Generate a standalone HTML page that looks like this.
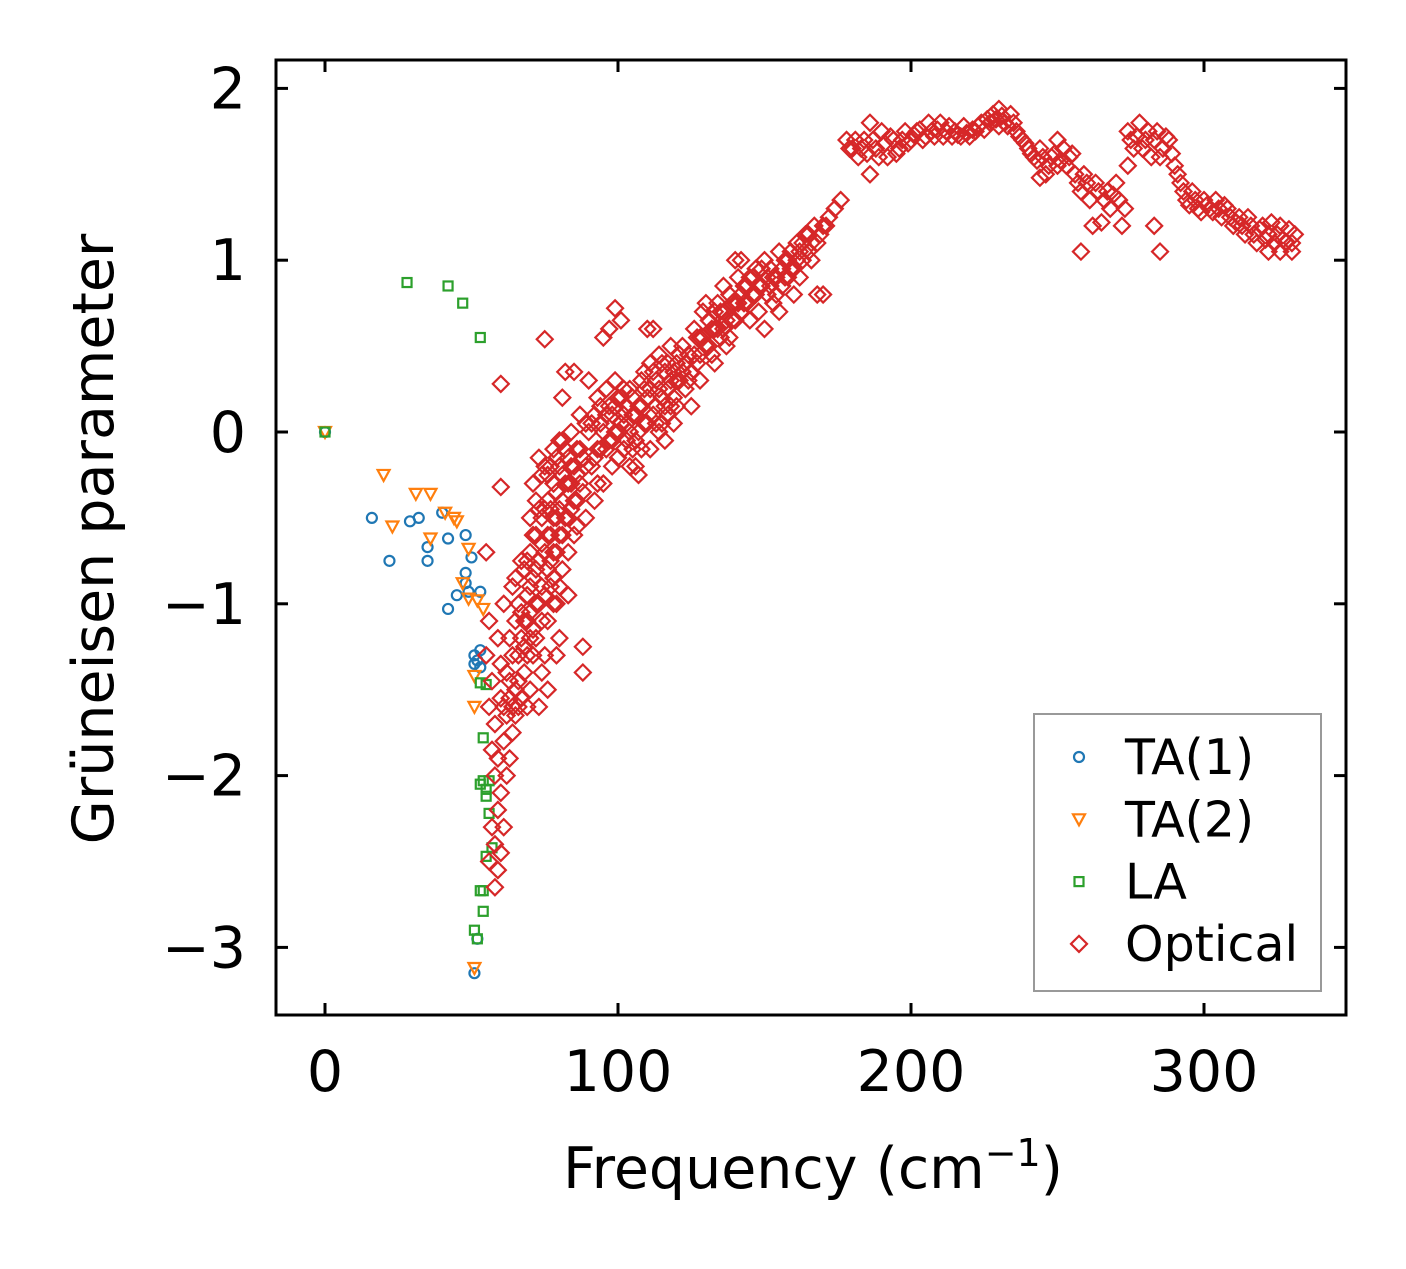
<!DOCTYPE html>
<html><head><meta charset="utf-8"><style>
html,body{margin:0;padding:0;background:#fff;}
svg text{font-family:"DejaVu Sans","Liberation Sans",sans-serif;}
</style></head><body>
<svg id="chart" width="1406" height="1264" xmlns="http://www.w3.org/2000/svg">
<rect width="1406" height="1264" fill="#fff"/>
<g id="marks"></g>
<g id="axes"></g>
<g id="legend"></g>
</svg>
<script>
const xTicks=[0,100,200,300];
const yTicks=[2,1,0,-1,-2,-3];
const yTickLabels=["2","1","0","\u22121","\u22122","\u22123"];
const ta1=[[0,0],[16,-0.5],[22,-0.75],[29,-0.52],[32,-0.5],[35,-0.75],[35,-0.67],[40,-0.47],[42,-0.62],[42,-1.03],[45,-0.95],[48,-0.6],[48,-0.82],[48,-0.88],[49,-0.93],[50,-0.73],[51,-1.3],[51,-1.35],[52,-1.33],[53,-0.93],[53,-1.27],[53,-1.37],[52,-2.95],[51,-3.15]];
const ta2=[[0,0],[20,-0.25],[23,-0.55],[31,-0.36],[36,-0.36],[36,-0.62],[41,-0.47],[44,-0.5],[45,-0.52],[47,-0.88],[49,-0.68],[49,-0.97],[51,-1.42],[51,-1.6],[52,-0.98],[54,-1.03],[51,-3.12]];
const la=[[0,0],[28,0.87],[42,0.85],[47,0.75],[53,0.55],[53,-1.46],[55,-1.47],[54,-1.78],[53,-2.05],[54,-2.03],[55,-2.08],[55,-2.12],[56,-2.22],[56,-2.03],[57,-2.42],[55,-2.47],[54,-2.67],[53,-2.67],[54,-2.79],[51,-2.9],[52,-2.95]];
const optical=[[55,-0.7],[56,-1.1],[55,-1.3],[57,-1.45],[56,-1.6],[58,-1.7],[57,-1.85],[59,-1.9],[58,-2.0],[60,-2.1],[59,-2.2],[57,-2.3],[58,-2.4],[60,-2.45],[56,-2.5],[59,-2.55],[58,-2.65],[61,-2.3],[62,-2.0],[61,-1.8],[63,-1.9],[60,-1.55],[62,-1.4],[64,-1.6],[63,-1.2],[61,-1.0],[65,-1.5],[66,-1.3],[64,-0.9],[60,-0.32],[60,0.28],[75,0.54],
[66,-1.0],[67,-1.2],[68,-1.4],[68,-0.8],[69,-1.1],[70,-0.9],[70,-1.5],[71,-0.6],[72,-0.8],[72,-1.2],[73,-1.0],[73,-1.6],[74,-0.5],[74,-0.9],[75,-0.7],[75,-1.3],[76,-0.4],[76,-1.1],[77,-0.6],[77,-0.9],[78,-0.3],[78,-0.7],[79,-0.5],[79,-1.0],[80,-0.2],[80,-0.6],[81,-0.4],[81,-0.8],[82,-0.1],[82,-0.5],[83,-0.3],[83,-0.7],[84,0.0],[84,-0.45],[85,-0.2],[85,-0.6],[86,-0.1],[86,-0.4],[87,0.1],[87,-0.3],[88,-0.15],[88,-1.25],[88,-1.4],[89,-0.5],[90,0.0],[90,0.3],[82,0.35],[85,0.35],[81,0.2],[78,-0.1],[79,-1.3],[80,-1.2],[76,-1.5],[83,-0.95],[69,-1.6],[67,-0.75],[71,-0.3],[73,-0.15],[75,-0.2],
[70,-0.5],[72,-0.4],[74,-0.25],[76,-0.8],[78,-1.0],[80,-0.9],[71,-1.3],[74,-1.4],[69,-1.3],[77,-0.2],[79,-0.15],[81,-0.05],[84,-0.2],[86,-0.55],[68,-1.1],[66,-1.6],[70,-1.2],
[63,-1.45],[64,-1.3],[65,-1.1],[65,-0.85],[66,-1.45],[67,-1.55],[67,-1.05],[68,-1.25],[69,-0.95],[69,-0.75],[70,-1.05],[70,-0.7],[71,-0.85],[71,-1.15],[72,-1.0],[72,-0.6],[73,-0.75],[73,-0.45],[74,-0.65],[74,-1.1],[75,-0.95],[75,-0.45],[76,-0.6],[76,-0.25],[77,-0.45],[77,-0.75],[78,-0.5],[78,-0.85],[79,-0.35],[79,-0.7],[80,-0.45],[80,-0.05],[81,-0.25],[81,-0.6],[82,-0.3],[83,-0.15],[83,-0.5],[84,-0.3],[85,-0.4],[86,-0.25],[87,-0.1],[88,-0.35],[89,-0.2],[89,0.05],[62,-1.65],[64,-1.75],[63,-1.55],[65,-1.65],[61,-1.6],[60,-1.35],[59,-1.2],
[91,-0.2],[92,0.1],[92,-0.4],[93,0.2],[94,-0.1],[95,0.0],[95,-0.3],[96,0.25],[97,-0.05],[98,0.1],[98,-0.2],[99,0.3],[100,0.0],[100,-0.15],[101,0.2],[102,-0.1],[103,0.05],[104,0.25],[104,-0.2],[105,0.1],[106,-0.05],[107,0.15],[108,0.3],[108,-0.1],[109,0.05],[110,0.2],[111,-0.1],[111,0.4],[112,0.1],[113,0.3],[114,0.0],[114,0.45],[115,0.2],[116,0.35],[117,0.1],[118,0.3],[118,0.5],[119,0.2],[120,0.4],[120,0.15],[97,0.6],[99,0.72],[101,0.65],[95,0.55],[104,0.0],[106,-0.2],[107,-0.25],[110,0.6],[112,0.6],[116,-0.05],
[93,-0.1],[96,0.1],[99,0.0],[102,0.1],[105,-0.1],[109,0.25],[113,0.15],[117,0.25],[94,0.15],[100,0.2],[103,-0.05],[115,0.05],
[91,0.05],[92,-0.15],[93,-0.3],[94,0.05],[96,-0.1],[97,0.15],[98,-0.05],[99,0.15],[101,0.05],[102,0.25],[103,0.15],[105,0.2],[106,0.1],[107,0.0],[108,0.15],[109,0.35],[110,0.05],[111,0.25],[112,0.35],[113,0.05],[114,0.25],[115,0.4],[116,0.15],[117,0.4],[118,0.15],[119,0.35],[119,0.05],[120,0.3],
[121,0.3],[122,0.5],[123,0.25],[124,0.45],[125,0.35],[126,0.6],[127,0.4],[128,0.55],[129,0.7],[130,0.5],[131,0.65],[132,0.45],[133,0.6],[134,0.75],[135,0.55],[136,0.7],[137,0.5],[138,0.8],[139,0.65],[140,0.75],[141,0.9],[142,0.7],[143,0.85],[144,0.75],[145,0.9],[146,0.8],[147,0.95],[148,0.7],[149,0.85],[150,1.0],[151,0.8],[152,0.95],[153,0.75],[154,0.9],[155,1.05],[156,0.85],[157,1.0],[158,0.9],[159,1.05],[160,0.95],[161,1.1],[162,0.9],[163,1.0],[164,1.15],[165,1.05],[166,1.1],[167,1.2],[168,0.8],[170,0.8],[169,1.15],[171,1.2],[172,1.25],[174,1.3],[176,1.35],[125,0.15],[128,0.3],[133,0.4],[138,0.55],[142,1.0],[140,1.0],[136,0.85],[130,0.75],[145,0.65],[150,0.6],[155,0.7],[160,0.8],
[121,0.45],[122,0.35],[123,0.4],[124,0.3],[126,0.45],[127,0.55],[128,0.45],[129,0.55],[131,0.5],[132,0.6],[133,0.7],[134,0.6],[135,0.7],[136,0.6],[137,0.65],[139,0.75],[140,0.65],[141,0.75],[142,0.8],[143,0.75],[144,0.85],[146,0.9],[147,0.8],[148,0.85],[149,0.95],[151,0.9],[152,0.85],[153,0.9],[154,0.8],[156,0.95],[157,0.9],[158,1.0],[159,0.95],[161,1.0],[162,1.05],[163,1.1],[165,1.15],[166,1.0],[168,1.1],[170,1.2],
[178,1.7],[180,1.65],[182,1.6],[184,1.7],[186,1.5],[186,1.8],[188,1.65],[190,1.75],[192,1.6],[194,1.7],[196,1.65],[198,1.75],[200,1.7],[202,1.75],[204,1.7],[206,1.8],[208,1.72],[210,1.8],[212,1.75],[214,1.72],[216,1.73],[218,1.78],[220,1.72],[222,1.75],[224,1.8],[226,1.82],[228,1.85],[230,1.88],[232,1.8],[234,1.85],[236,1.75],[238,1.7],[240,1.65],[242,1.6],[244,1.65],[246,1.5],[248,1.6],[250,1.55],[252,1.65],[254,1.6],[256,1.5],[258,1.05],[258,1.4],[260,1.45],[262,1.2],[264,1.4],[266,1.35],[268,1.3],[270,1.45],[272,1.2],[274,1.75],[274,1.55],[276,1.65],[278,1.8],[280,1.7],[282,1.6],[284,1.75],[286,1.65],[285,1.05],[288,1.7],[290,1.55],[292,1.45],[294,1.35],[296,1.4],[298,1.3],[300,1.35],[302,1.3],[304,1.35],[306,1.25],[308,1.3],[310,1.2],[312,1.25],[314,1.15],[316,1.2],[318,1.1],[320,1.2],[322,1.15],[324,1.1],[326,1.2],[328,1.1],[330,1.05],[331,1.15],[265,1.22],[230,1.78],[250,1.7],[283,1.2],[244,1.48],
[179,1.65],[181,1.7],[183,1.65],[185,1.62],[187,1.7],[189,1.6],[191,1.68],[193,1.72],[195,1.62],[197,1.7],[199,1.68],[201,1.73],[203,1.76],[205,1.72],[207,1.75],[209,1.76],[211,1.72],[213,1.78],[215,1.75],[217,1.72],[219,1.74],[221,1.76],[223,1.78],[225,1.76],[227,1.8],[229,1.82],[231,1.84],[233,1.78],[235,1.8],[237,1.72],[239,1.68],[241,1.62],[243,1.58],[245,1.6],[247,1.55],[249,1.62],[251,1.58],[253,1.55],[255,1.62],[257,1.45],[259,1.5],[261,1.35],[263,1.45],[267,1.4],[269,1.38],[271,1.35],[273,1.3],[275,1.7],[277,1.72],[279,1.65],[281,1.75],[283,1.7],[285,1.6],[287,1.72],[289,1.62],[291,1.5],[293,1.4],[295,1.32],[297,1.35],[299,1.28],[301,1.32],[303,1.28],[305,1.3],[307,1.32],[309,1.25],[311,1.22],[313,1.2],[315,1.25],[317,1.15],[319,1.18],[321,1.12],[323,1.22],[325,1.15],[327,1.12],[329,1.18],[330,1.1],[326,1.05],[322,1.05]];

const NS="http://www.w3.org/2000/svg";
const L=276,R=1346,T=60,B=1015;
const X=v=>325+v*2.93;
const Y=v=>432-v*171.8;
function mk(tag,attrs,parent){const e=document.createElementNS(NS,tag);for(const k in attrs)e.setAttribute(k,attrs[k]);parent.appendChild(e);return e;}
const marks=document.getElementById('marks');
const axes=document.getElementById('axes');
const legend=document.getElementById('legend');

function marker(type,cx,cy,color,parent){
  let e;
  if(type==='circle') e=mk('circle',{cx:cx,cy:cy,r:5,fill:'none',stroke:color,'stroke-width':2.2},parent);
  else if(type==='tri') e=mk('polygon',{points:`${cx-6},${cy-5} ${cx+6},${cy-5} ${cx},${cy+6}`,fill:'none',stroke:color,'stroke-width':2.2},parent);
  else if(type==='square') e=mk('rect',{x:cx-4.5,y:cy-4.5,width:9,height:9,fill:'none',stroke:color,'stroke-width':2.2},parent);
  else e=mk('polygon',{points:`${cx},${cy-8} ${cx+8},${cy} ${cx},${cy+8} ${cx-8},${cy}`,fill:'none',stroke:color,'stroke-width':2.2},parent);
  return e;
}
const series=[
  {name:'TA(1)',data:ta1,type:'circle',color:'#1f77b4'},
  {name:'TA(2)',data:ta2,type:'tri',color:'#ff7f0e'},
  {name:'LA',data:la,type:'square',color:'#2ca02c'},
  {name:'Optical',data:optical,type:'diamond',color:'#d62728'}
];
series.forEach(s=>{
  const g=mk('g',{},marks);
  
  
  s.data.forEach(p=>{
    const m=marker(s.type,X(p[0]),Y(p[1]),s.color,g);
    
    
  });
});

const fr=mk('rect',{x:L,y:T,width:R-L,height:B-T,fill:'none',stroke:'#000','stroke-width':3},axes);


xTicks.forEach(v=>{
  const x=X(v);
  mk('line',{x1:x,y1:B,x2:x,y2:B-12,stroke:'#000','stroke-width':3},axes);
  mk('line',{x1:x,y1:T,x2:x,y2:T+12,stroke:'#000','stroke-width':3},axes);
  const t=mk('text',{x:x,y:B+76,'font-size':57,'text-anchor':'middle'},axes);
  t.textContent=String(v);
  
  
});
yTicks.forEach((v,i)=>{
  const y=Y(v);
  mk('line',{x1:L,y1:y,x2:L+12,y2:y,stroke:'#000','stroke-width':3},axes);
  mk('line',{x1:R,y1:y,x2:R-12,y2:y,stroke:'#000','stroke-width':3},axes);
  const t=mk('text',{x:L-30,y:y+20,'font-size':57,'text-anchor':'end'},axes);
  t.textContent=yTickLabels[i];
  
  
});
const xt=mk('text',{x:813,y:1188,'font-size':57,'text-anchor':'middle'},axes);
xt.innerHTML='Frequency (cm<tspan font-size="38" dy="-22">\u22121</tspan><tspan dy="22">)</tspan>';


const yt=mk('text',{x:0,y:0,'font-size':57,'text-anchor':'middle',transform:'translate(113,539) rotate(-90)'},axes);
yt.textContent='Grüneisen parameter';



const lb=mk('rect',{x:1034,y:714,width:287,height:277,fill:'#fff',stroke:'#999','stroke-width':2},legend);


series.forEach((s,i)=>{
  const y=757+i*62.3;
  const g=mk('g',{},legend);
  
  
  marker(s.type,1079,y,s.color,g);
  const t=mk('text',{x:1125,y:y+17,'font-size':49},g);
  t.textContent=s.name;
});
</script>
</body></html>
